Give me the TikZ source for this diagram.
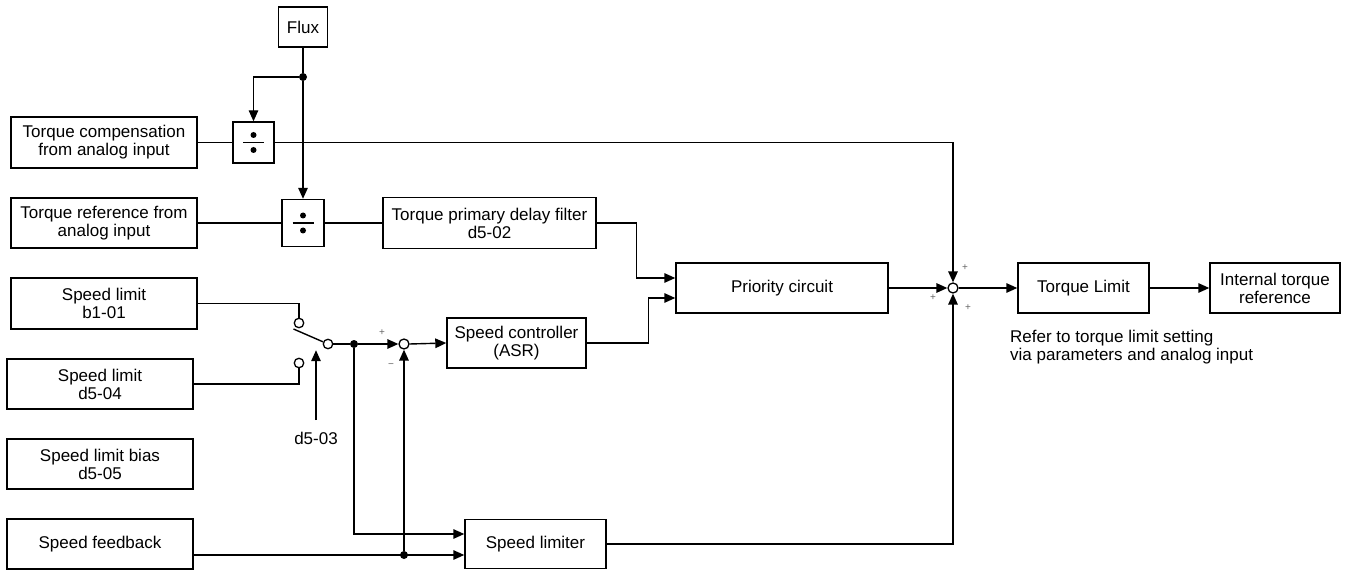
\documentclass[tikz,border=0pt]{standalone}
\usepackage{fontspec}
\setmainfont{Liberation Sans}
\usetikzlibrary{arrows.meta,calc}
\begin{document}
\begin{tikzpicture}[x=1pt,y=-1pt,
  font=\fontsize{17}{18}\selectfont,
  blk/.style={draw, line width=1.4pt, inner sep=0pt, align=center},
  ln/.style={line width=1.4pt},
  arr/.style={ln, -{Triangle[length=11pt,width=9.5pt]}},
  sumc/.style={circle, draw, line width=1.3pt, fill=white, minimum size=10pt, inner sep=0pt},
  contact/.style={circle, draw, line width=1.3pt, fill=white, minimum size=9.5pt, inner sep=0pt},
  jdot/.style={circle, fill, minimum size=8pt, inner sep=0pt},
  sgn/.style={font=\fontsize{10}{10}\selectfont, text=black!60, inner sep=0pt}
]
\useasboundingbox (0,0) rectangle (1345,572);

% blocks
\node[blk, minimum width=49pt, minimum height=40pt] (flux) at (303,27) {Flux};
\node[blk, minimum width=186pt, minimum height=51pt] (tcomp) at (104,142.5) {Torque compensation\\from analog input};
\node[blk, minimum width=186pt, minimum height=50pt] (tref) at (104,223) {Torque reference from\\analog input};
\node[blk, minimum width=186pt, minimum height=51pt] (sl1) at (104,303.5) {Speed limit\\b1-01};
\node[blk, minimum width=186pt, minimum height=50pt] (sl2) at (100,384) {Speed limit\\d5-04};
\node[blk, minimum width=186pt, minimum height=50pt] (bias) at (100,464) {Speed limit bias\\d5-05};
\node[blk, minimum width=186pt, minimum height=50pt] (fb) at (100,544) {Speed feedback};

\node[blk, minimum width=41pt, minimum height=41pt] (div1) at (253.5,142.5) {};
\node[blk, minimum width=42pt, minimum height=47pt] (div2) at (303,223) {};
\foreach \d in {div1,div2}{
  \draw[ln] ($(\d)+(-10.5,0)$) -- ($(\d)+(10.5,0)$);
  \fill ($(\d)+(0,-7.5)$) circle (3pt);
  \fill ($(\d)+(0,7.5)$) circle (3pt);
}

\node[blk, minimum width=213pt, minimum height=51pt] (tf) at (489.5,223) {Torque primary delay filter\\d5-02};
\node[blk, minimum width=212pt, minimum height=50pt] (pc) at (782,288) {Priority circuit};
\node[blk, minimum width=139pt, minimum height=50pt] (sc) at (516.5,343) {Speed controller\\(ASR)};
\node[blk, minimum width=141pt, minimum height=49pt] (slim) at (535.5,544) {Speed limiter};
\node[blk, minimum width=131pt, minimum height=50pt] (tl) at (1083.5,288) {Torque Limit};
\node[blk, minimum width=130pt, minimum height=50pt] (itr) at (1275,288) {Internal torque\\reference};

\node[anchor=north west, inner sep=0pt, align=left] (note) at (1010,330) {Refer to torque limit setting\\via parameters and analog input};

% junctions
\node[sumc] (sum1) at (404,344) {};
\node[sumc] (sum2) at (953,288) {};
\node[contact] (c1) at (299,323) {};
\node[contact] (c2) at (299,363) {};
\node[contact] (cc) at (328,344) {};
\node[jdot] (dflux) at (303,77) {};
\node[jdot] (dsw) at (354,344) {};
\node[jdot] (dfb) at (404,555) {};

\node (d503) at (316,438) {d5-03};

% connectors
\draw[ln] (flux.south) -- (dflux);
\draw[arr] (dflux) -- (div2.north);
\draw[arr] (dflux) -| (div1.north);
\draw[ln] (tcomp.east) -- (div1.west);
\draw[arr] (div1.east) -| (sum2.north);
\draw[ln] (tref.east) -- (div2.west);
\draw[ln] (div2.east) -- (tf.west);
\draw[arr] (tf.east) -- ++(40,0) |- ($(pc.west)+(0,-10)$);
\draw[arr] (sc.east) -- ++(62,0) |- ($(pc.west)+(0,10)$);
\draw[arr] (pc.east) -- (sum2.west);
\draw[arr] (sum2.east) -- (tl.west);
\draw[arr] (tl.east) -- (itr.west);
\draw[arr] (slim.east) -| (sum2.south);

\draw[ln] (sl1.east) -| (c1.north);
\draw[ln] (sl2.east) -| (c2.south);
\draw[ln] ($(c1)+(-5.5,6)$) -- (cc);
\draw[ln] (cc) -- (dsw);
\draw[arr] (dsw) -- (sum1.west);
\draw[arr] (sum1.east) -- (sc.west);
\draw[arr] (dsw) |- ($(slim.west)+(0,-10)$);
\draw[arr] ($(fb.east)+(0,11)$) -- ($(slim.west)+(0,11)$);
\draw[arr] (dfb) -- (sum1.south);
\draw[arr] ($(d503.north)+(0,-8)$) -- ++(0,-70);

% signs
\node[sgn] at (382,333) {+};
\node[sgn] at (391,366) {−};
\node[sgn] at (965,268) {+};
\node[sgn] at (933,298) {+};
\node[sgn] at (968,308) {+};
\end{tikzpicture}
\end{document}
